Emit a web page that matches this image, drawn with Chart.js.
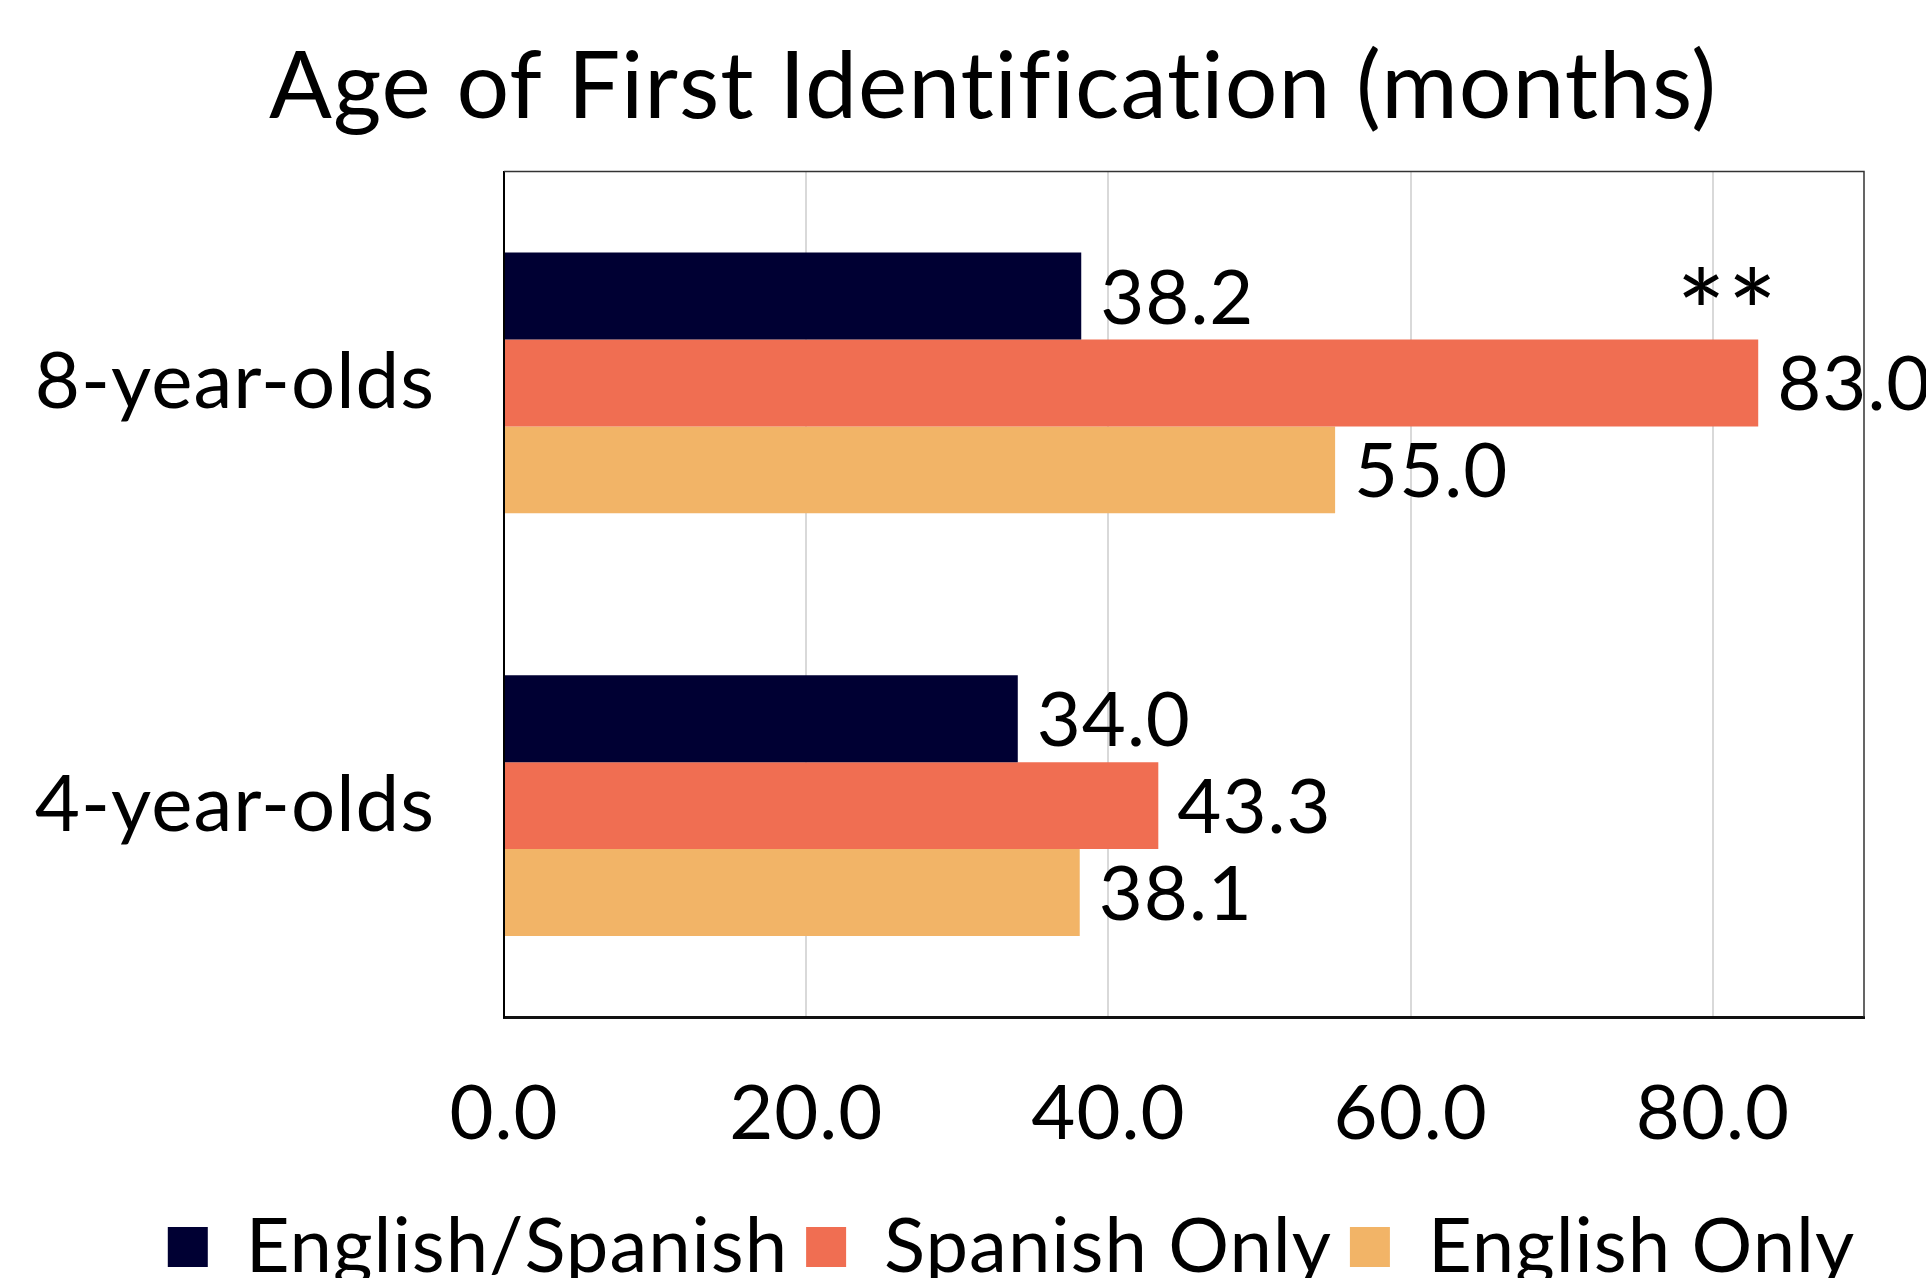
<!DOCTYPE html>
<html><head><meta charset="utf-8">
<script src="https://cdn.jsdelivr.net/npm/chart.js@4"></script>
<style>html,body{margin:0;padding:0;background:#fff;overflow:hidden}#wrap{width:1926px;height:1278px}</style>
</head><body><div id="wrap"><canvas id="c"></canvas></div>
<script>
const categories = ['8-year-olds', '4-year-olds'];
const seriesNames = ['English/Spanish', 'Spanish Only', 'English Only'];
const englishSpanish = [38.2, 34.0];
const spanishOnly = [83.0, 43.3];
const englishOnly = [55.0, 38.1];
const spanishOnlyMarks = ['**', ''];
const xTickValues = [0, 20, 40, 60, 80];
const xTickLabels = ['0.0', '20.0', '40.0', '60.0', '80.0'];
const xMin = 0, xMax = 90;
const titleText = 'Age of First Identification (months)';

const FONT = 'Lato';
Chart.defaults.color = '#000';
Chart.defaults.font.family = FONT;

const valueLabels = {
  id: 'valueLabels',
  afterDatasetsDraw(chart) {
    const ctx = chart.ctx;
    ctx.save();
    chart.data.datasets.forEach((ds, di) => {
      const meta = chart.getDatasetMeta(di);
      meta.data.forEach((bar, i) => {
        ctx.font = '76px ' + FONT;
        ctx.fillStyle = '#000';
        ctx.textAlign = 'left';
        ctx.textBaseline = 'middle';
        ctx.fillText(ds.data[i].toFixed(1), bar.x + 19, bar.y + 3);
        if (ds.marks && ds.marks[i]) {
          ctx.font = '118px ' + FONT;
          ctx.textAlign = 'center';
          ctx.textBaseline = 'alphabetic';
          ctx.fillText(ds.marks[i], bar.x - 31, bar.y - 27);
        }
      });
    });
    ctx.restore();
  }
};

const frame = {
  id: 'frame',
  beforeDraw(chart) {
    chart.ctx.letterSpacing = '1px';
  },
  afterLayout(chart) {
    if (chart.titleBlock) { chart.titleBlock.left += 61; chart.titleBlock.right += 61; }
    if (chart.legend) { chart.legend.left += 60; chart.legend.right += 60; }
  },
  afterDatasetsDraw(chart) {
    const a = chart.chartArea, ctx = chart.ctx;
    ctx.save();
    ctx.strokeStyle = '#333';
    ctx.lineWidth = 1.5;
    ctx.beginPath();
    ctx.moveTo(a.left, a.top);
    ctx.lineTo(a.right, a.top);
    ctx.lineTo(a.right, a.bottom);
    ctx.stroke();
    ctx.restore();
  }
};

new Chart(document.getElementById('c'), {
  type: 'bar',
  data: {
    labels: categories,
    datasets: [
      { label: seriesNames[0], data: englishSpanish, backgroundColor: '#000033' },
      { label: seriesNames[1], data: spanishOnly, backgroundColor: '#F06E52', marks: spanishOnlyMarks },
      { label: seriesNames[2], data: englishOnly, backgroundColor: '#F2B467' }
    ]
  },
  options: {
    indexAxis: 'y',
    responsive: true,
    maintainAspectRatio: false,
    animation: false,
    barPercentage: 1,
    categoryPercentage: 0.617,
    layout: { padding: { left: 0, right: 62, top: 0, bottom: -17 } },
    scales: {
      x: {
        min: xMin, max: xMax,
        afterBuildTicks: s => { s.ticks = xTickValues.map(v => ({ value: v })); },
        afterFit: s => { s.height = 174; },
        grid: { color: '#d9d9d9', lineWidth: 2, drawTicks: false },
        border: { color: '#111', width: 3 },
        ticks: { font: { size: 76 }, padding: 52, color: '#000',
                 callback: (v, i) => xTickLabels[i] }
      },
      y: {
        afterFit: s => { s.width = 504; },
        grid: { display: false, drawTicks: false },
        border: { color: '#000', width: 2 },
        ticks: { font: { size: 78 }, padding: 69, color: '#000' }
      }
    },
    plugins: {
      title: { display: true, text: titleText, color: '#000',
               font: { size: 93, weight: 'normal' }, padding: { top: 32, bottom: 28 } },
      legend: { position: 'bottom',
                labels: { font: { size: 76 }, boxWidth: 40, boxHeight: 40, padding: 18, color: '#000' } },
      tooltip: { enabled: false }
    }
  },
  plugins: [valueLabels, frame]
});
</script></body></html>
